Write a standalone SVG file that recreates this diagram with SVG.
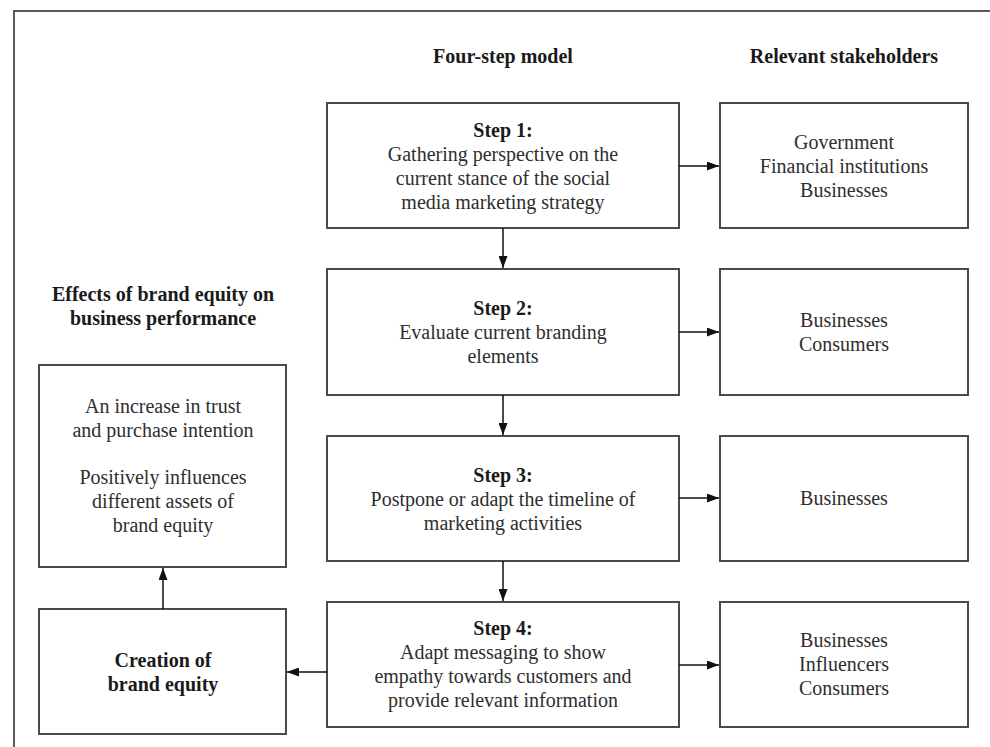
<svg xmlns="http://www.w3.org/2000/svg" width="990" height="747" viewBox="0 0 990 747">
<defs>
<style>
.frame{fill:none;stroke:#5a5a5a;stroke-width:2}
.box{fill:#fff;stroke:#4a4a4a;stroke-width:2}
.t{font-family:"Liberation Serif","Times New Roman",serif;font-size:20px;fill:#2e2e2e;text-anchor:middle}
.b{font-weight:bold;fill:#1a1a1a}
.conn{fill:none;stroke:#111;stroke-width:1.5}
</style>
<marker id="arr" markerUnits="userSpaceOnUse" markerWidth="12" markerHeight="9" refX="12" refY="4.5" orient="auto">
<path d="M0,0 L12,4.5 L0,9 z" fill="#111"/>
</marker>
</defs>
<rect width="990" height="747" fill="#fff"/>
<rect class="frame" x="14" y="11" width="1000" height="1000"/>

<g id="headers">
<text class="t b" x="503" y="63">Four-step model</text>
<text class="t b" x="844" y="63">Relevant stakeholders</text>
<text class="t b" x="163" y="301">Effects of brand equity on</text>
<text class="t b" x="163" y="325">business performance</text>
</g>

<g id="step1">
<rect class="box" x="327" y="103" width="352" height="125"/>
<text class="t b" x="503" y="137">Step 1:</text>
<text class="t" x="503" y="161">Gathering perspective on the</text>
<text class="t" x="503" y="185">current stance of the social</text>
<text class="t" x="503" y="209">media marketing strategy</text>
</g>
<g id="step2">
<rect class="box" x="327" y="269" width="352" height="126"/>
<text class="t b" x="503" y="315">Step 2:</text>
<text class="t" x="503" y="339">Evaluate current branding</text>
<text class="t" x="503" y="363">elements</text>
</g>
<g id="step3">
<rect class="box" x="327" y="436" width="352" height="125"/>
<text class="t b" x="503" y="482">Step 3:</text>
<text class="t" x="503" y="506">Postpone or adapt the timeline of</text>
<text class="t" x="503" y="530">marketing activities</text>
</g>
<g id="step4">
<rect class="box" x="327" y="602" width="352" height="125"/>
<text class="t b" x="503" y="635">Step 4:</text>
<text class="t" x="503" y="659">Adapt messaging to show</text>
<text class="t" x="503" y="683">empathy towards customers and</text>
<text class="t" x="503" y="707">provide relevant information</text>
</g>

<g id="stake1">
<rect class="box" x="720" y="103" width="248" height="125"/>
<text class="t" x="844" y="149">Government</text>
<text class="t" x="844" y="173">Financial institutions</text>
<text class="t" x="844" y="197">Businesses</text>
</g>
<g id="stake2">
<rect class="box" x="720" y="269" width="248" height="126"/>
<text class="t" x="844" y="327">Businesses</text>
<text class="t" x="844" y="351">Consumers</text>
</g>
<g id="stake3">
<rect class="box" x="720" y="436" width="248" height="125"/>
<text class="t" x="844" y="505">Businesses</text>
</g>
<g id="stake4">
<rect class="box" x="720" y="602" width="248" height="125"/>
<text class="t" x="844" y="647">Businesses</text>
<text class="t" x="844" y="671">Influencers</text>
<text class="t" x="844" y="695">Consumers</text>
</g>

<g id="effects">
<rect class="box" x="39" y="365" width="247" height="202"/>
<text class="t" x="163" y="413">An increase in trust</text>
<text class="t" x="163" y="437">and purchase intention</text>
<text class="t" x="163" y="484">Positively influences</text>
<text class="t" x="163" y="508">different assets of</text>
<text class="t" x="163" y="532">brand equity</text>
</g>
<g id="creation">
<rect class="box" x="39" y="609" width="247" height="125"/>
<text class="t b" x="163" y="667">Creation of</text>
<text class="t b" x="163" y="691">brand equity</text>
</g>

<g id="connectors">
<line class="conn" x1="503" y1="228" x2="503" y2="268" marker-end="url(#arr)"/>
<line class="conn" x1="503" y1="395" x2="503" y2="435" marker-end="url(#arr)"/>
<line class="conn" x1="503" y1="561" x2="503" y2="601" marker-end="url(#arr)"/>
<line class="conn" x1="679" y1="166" x2="719" y2="166" marker-end="url(#arr)"/>
<line class="conn" x1="679" y1="332" x2="719" y2="332" marker-end="url(#arr)"/>
<line class="conn" x1="679" y1="498" x2="719" y2="498" marker-end="url(#arr)"/>
<line class="conn" x1="679" y1="665" x2="719" y2="665" marker-end="url(#arr)"/>
<line class="conn" x1="327" y1="672" x2="287" y2="672" marker-end="url(#arr)"/>
<line class="conn" x1="163" y1="609" x2="163" y2="568" marker-end="url(#arr)"/>
</g>
</svg>
